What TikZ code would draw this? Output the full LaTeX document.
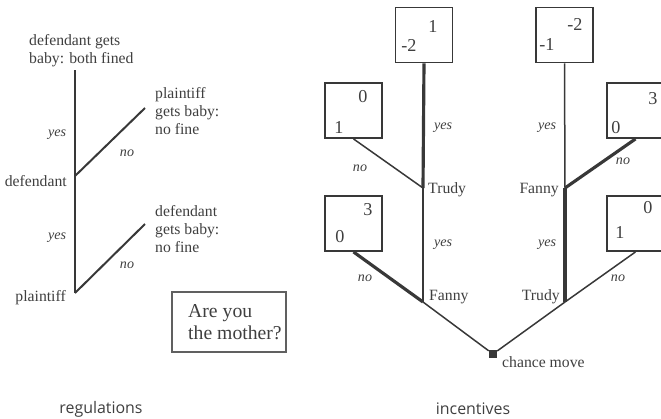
\documentclass[tikz,border=0pt]{standalone}
\usepackage{fontspec}
\setmainfont{Liberation Serif}
\setsansfont{Open Sans}
\definecolor{ink}{HTML}{383838}
\definecolor{txt}{HTML}{3F3F3F}

\begin{document}
\begin{tikzpicture}[x=0.03cm, y=-0.03cm,
  every node/.style={text=txt, inner sep=0pt, font=\fontsize{13.4}{15.3}\selectfont},
  rule/.style={line width= 0.6mm, ink},
  move/.style={line width= 0.45mm, ink},
  best/.style={line width= 0.95mm, ink},
  choice/.style={font=\itshape\fontsize{12}{14}\selectfont},
  payoff/.style={draw=ink, line width= 0.45mm, minimum width=1.71cm, minimum height=1.66cm},
  num/.style={font=\fontsize{15.5}{17}\selectfont},
  caption/.style={font=\sffamily\fontsize{13.6}{15}\selectfont, text=txt}]

  \useasboundingbox (0,0) rectangle (661,419);

  % Regulations:

  % Tree
  \coordinate (top) at (75,70);
  \coordinate (dfd) at (75,176);
  \coordinate (plt) at (75,293);
  \coordinate (pend) at (145,108);
  \coordinate (dend) at (145,224);
  \draw[rule] (top) -- (dfd) -- (plt);
  \draw[rule] (dfd) -- (pend);
  \draw[rule] (plt) -- (dend);

  % Outcomes
  \node (both) [anchor=west, align=left] at (29,51) {defendant gets\\baby: both fined};
  \node (pgets) [anchor=west, align=left] at (155,111) {plaintiff\\gets baby:\\no fine};
  \node (dgets) [anchor=west, align=left] at (155,229) {defendant\\gets baby:\\no fine};
  \node (dlab) [anchor=east] at (67,181) {defendant};
  \node (plab) [anchor=east] at (66,298) {plaintiff};
  \node (yes1) [choice] at (57,135) {yes};
  \node (no1) [choice] at (127,153) {no};
  \node (yes2) [choice] at (57,238) {yes};
  \node (no2) [choice] at (127,265) {no};

  % Question
  \node (mbox) [draw=ink!80, line width= 0.35mm, minimum width=3.42cm, minimum height=1.8cm] at (229,322) {};
  \node (mtext) [anchor=west, align=left, font=\fontsize{16.8}{18.5}\selectfont] at (188,322) {Are you\\the mother?};

  % Incentives:

  % Boxes
  \node (b1) [payoff] at (424,35) {};
  \node (b2) [payoff] at (564.5,35) {};
  \node (b3) [payoff] at (353.5,110.5) {};
  \node (b4) [payoff] at (635.5,110.5) {};
  \node (b5) [payoff] at (353.5,223.5) {};
  \node (b6) [payoff] at (635.5,223.5) {};

  \node (b1u) [num] at (433,27) {1};
  \node (b1l) [num] at (409,45) {-2};
  \node (b2u) [num] at (575,24) {-2};
  \node (b2l) [num] at (547,45) {-1};
  \node (b3u) [num] at (363,97) {0};
  \node (b3l) [num] at (339,128) {1};
  \node (b4u) [num] at (653,99) {3};
  \node (b4l) [num] at (616,128) {0};
  \node (b5u) [num] at (368,210) {3};
  \node (b5l) [num] at (340,237) {0};
  \node (b6u) [num] at (648,208) {0};
  \node (b6l) [num] at (620,233) {1};

  % Tree
  \node (chance) [fill=ink, minimum size=0.24cm] at (493,354) {};
  \coordinate (fb) at (423,302);
  \coordinate (tb) at (565,302);
  \coordinate (tt) at (423,188);
  \coordinate (ft) at (565,188);

  \draw[move] (chance) -- (fb);
  \draw[move] (chance) -- (tb);
  \draw[move] (fb) -- (tt);
  \draw[best] (fb) -- (b5.south);
  \draw[best] (tb) -- (ft);
  \draw[move] (tb) -- (b6.south);
  \draw[best] (tt) -- (b1.south);
  \draw[move] (tt) -- (b3.south);
  \draw[move] (ft) -- (b2.south);
  \draw[best] (ft) -- (b4.south);

  % Labels
  \node (trudy1) [anchor=west] at (428,190) {Trudy};
  \node (fanny1) [anchor=east] at (559,190) {Fanny};
  \node (fanny2) [anchor=west] at (429,297) {Fanny};
  \node (trudy2) [anchor=east] at (560,297) {Trudy};
  \node (clab) [anchor=west] at (502,362) {chance move};

  \node (yes3) [choice] at (443,128) {yes};
  \node (yes4) [choice] at (547,128) {yes};
  \node (yes5) [choice] at (443,245) {yes};
  \node (yes6) [choice] at (547,245) {yes};
  \node (no3) [choice] at (360,168) {no};
  \node (no4) [choice] at (623,161) {no};
  \node (no5) [choice] at (365,278) {no};
  \node (no6) [choice] at (618,278) {no};

  % Captions
  \node (regs) [caption] at (101,409) {regulations};
  \node (incs) [caption] at (473,409) {incentives};

\end{tikzpicture}
\end{document}
